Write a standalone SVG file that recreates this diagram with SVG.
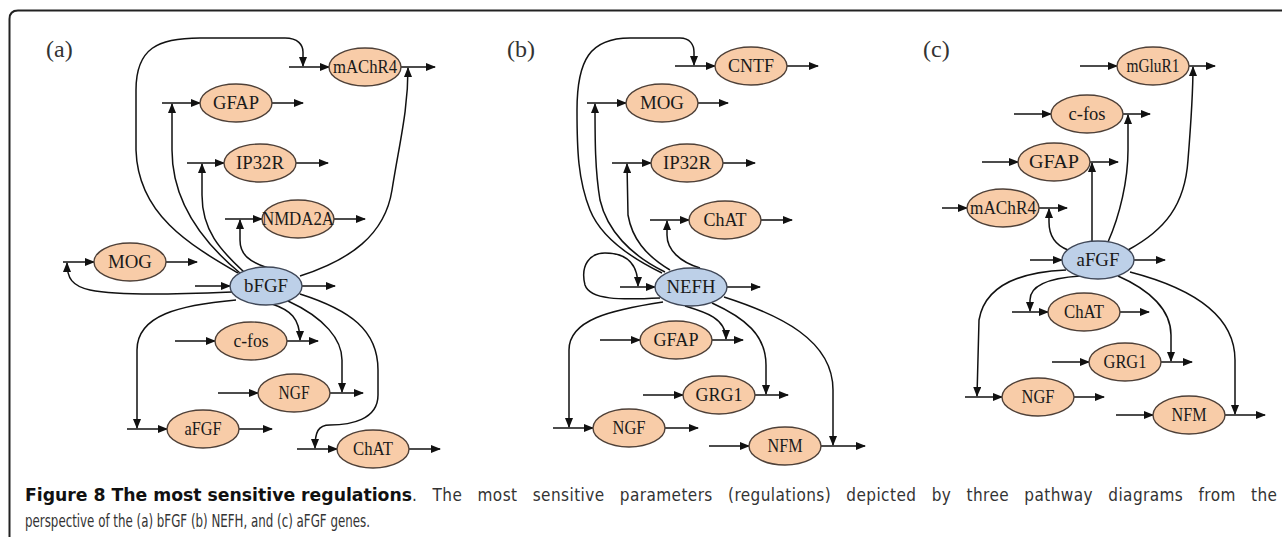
<svg xmlns="http://www.w3.org/2000/svg" width="1282" height="537" viewBox="0 0 1282 537">
<style>
.n ellipse{fill:#F8CCA8;stroke:#4e4038;stroke-width:1.4}
.n.c ellipse{fill:#BDD0E8;stroke:#404858}
.n text{font-family:"Liberation Serif","Times New Roman",serif;font-size:18px;fill:#1a1a1a;text-anchor:middle}
.e path{fill:none;stroke:#111;stroke-width:1.5;marker-end:url(#ah)}
.lab{font-family:"Liberation Serif","Times New Roman",serif;font-size:24px;fill:#333}
.cap{font-family:"Liberation Sans Narrow","DejaVu Sans Condensed","Open Sans",sans-serif;font-size:17px;fill:#333}
.capb{font-weight:bold;fill:#111}
</style>
<defs>
<marker id="ah" viewBox="0 0 10 8" refX="9" refY="4" markerWidth="10" markerHeight="8" markerUnits="userSpaceOnUse" orient="auto"><path d="M0,0L10,4L0,8z" fill="#111"/></marker>
</defs>
<rect width="1282" height="537" fill="#fff"/>
<path d="M1282,10.5H18Q9.5,10.5 9.5,19V537" fill="none" stroke="#222" stroke-width="2"/>
<text class="lab" x="46" y="57">(a)</text>
<text class="lab" x="507" y="57">(b)</text>
<text class="lab" x="923" y="57">(c)</text>
<g id="connectors" class="e">
<path d="M289,67H329"/><path d="M401,67H435"/>
<path d="M162,103H200"/><path d="M272,103H303"/>
<path d="M187,163H224"/><path d="M296,163H328"/>
<path d="M225,219H262"/><path d="M334,219H365"/>
<path d="M63,262H94"/><path d="M166,262H197"/>
<path d="M195,286H230"/><path d="M302,286H335"/>
<path d="M175,341H215"/><path d="M287,341H318"/>
<path d="M218,393H258"/><path d="M330,393H363"/>
<path d="M127,429H167"/><path d="M239,429H272"/>
<path d="M297,449H337"/><path d="M409,449H440"/>
<path d="M238,273C190,245 138,215 136,150L136,90C136,48 158,38 200,38L285,38C298,38 303,45 303,52L303,66"/>
<path d="M240,273C200,240 172,200 172,150L172,104"/>
<path d="M244,272C220,250 202,230 202,195L202,164"/>
<path d="M268,268C250,262 240,255 240,240L240,220"/>
<path d="M300,276C350,260 385,235 392,190C400,140 408,110 408,68"/>
<path d="M232,292C180,294 120,296 90,290C72,286 67,278 67,263"/>
<path d="M236,300C180,305 137,315 137,350L137,428"/>
<path d="M272,304C290,310 300,318 300,340"/>
<path d="M288,301C325,318 342,340 342,360L342,392"/>
<path d="M300,294C350,310 378,330 378,370L378,395C378,420 350,425 330,425C318,425 315,432 315,448"/>
<path d="M675,66H715"/><path d="M787,66H818"/>
<path d="M587,103H626"/><path d="M698,103H728"/>
<path d="M612,163H651"/><path d="M723,163H755"/>
<path d="M650,220H689"/><path d="M761,220H792"/>
<path d="M620,287H655"/><path d="M727,287H760"/>
<path d="M600,340H640"/><path d="M712,340H743"/>
<path d="M643,395H683"/><path d="M755,395H788"/>
<path d="M553,428H593"/><path d="M665,428H698"/>
<path d="M709,446H749"/><path d="M821,446H865"/>
<path d="M662,273C625,255 600,235 590,210C578,180 577,150 577,110C577,60 590,38 630,38L680,38C690,38 694,45 694,52L694,65"/>
<path d="M665,272C630,255 607,230 600,200C595,170 595,140 595,104"/>
<path d="M670,270C645,255 632,238 628,215L627,164"/>
<path d="M700,268C680,262 667,250 667,235L667,221"/>
<path d="M660,298C620,300 590,300 585,285C580,265 590,253 605,253C625,253 638,262 638,286"/>
<path d="M663,302C610,310 569,320 569,350L569,427"/>
<path d="M685,306C705,312 726,318 726,339"/>
<path d="M712,303C745,318 766,335 766,365L766,394"/>
<path d="M724,297C780,315 833,340 833,390L833,445"/>
<path d="M1080,66H1117"/><path d="M1189,66H1215"/>
<path d="M1014,114H1051"/><path d="M1123,114H1150"/>
<path d="M982,162H1018"/><path d="M1090,162H1118"/>
<path d="M942,208H967"/><path d="M1039,208H1067"/>
<path d="M1030,260H1062"/><path d="M1134,260H1165"/>
<path d="M1012,312H1048"/><path d="M1120,312H1149"/>
<path d="M1052,362H1089"/><path d="M1161,362H1192"/>
<path d="M965,397H1002"/><path d="M1074,397H1104"/>
<path d="M1116,415H1153"/><path d="M1225,415H1265"/>
<path d="M1068,250C1055,245 1049,235 1049,222L1049,209"/>
<path d="M1092,242L1092,163"/>
<path d="M1108,242C1120,215 1128,180 1128,150L1128,115"/>
<path d="M1128,250C1165,230 1185,205 1188,160C1192,110 1193,90 1193,67"/>
<path d="M1066,270C1020,272 985,285 979,320L977,396"/>
<path d="M1080,276C1050,278 1030,285 1030,300L1030,311"/>
<path d="M1118,276C1150,290 1171,310 1171,335L1171,361"/>
<path d="M1130,272C1180,285 1235,310 1235,360L1235,414"/>
</g>
<g id="a-mAChR4" class="n"><ellipse cx="365" cy="67" rx="36" ry="19"/><text x="365" y="73" textLength="64" lengthAdjust="spacingAndGlyphs">mAChR4</text></g>
<g id="a-GFAP" class="n"><ellipse cx="236" cy="103" rx="36" ry="19"/><text x="236" y="109" textLength="46" lengthAdjust="spacingAndGlyphs">GFAP</text></g>
<g id="a-IP32R" class="n"><ellipse cx="260" cy="163" rx="36" ry="19"/><text x="260" y="169" textLength="48" lengthAdjust="spacingAndGlyphs">IP32R</text></g>
<g id="a-NMDA2A" class="n"><ellipse cx="298" cy="219" rx="36" ry="19"/><text x="298" y="225" textLength="72" lengthAdjust="spacingAndGlyphs">NMDA2A</text></g>
<g id="a-MOG" class="n"><ellipse cx="130" cy="262" rx="36" ry="19"/><text x="130" y="268" textLength="44" lengthAdjust="spacingAndGlyphs">MOG</text></g>
<g id="a-bFGF" class="n c"><ellipse cx="266" cy="286" rx="36" ry="19"/><text x="266" y="292" textLength="44" lengthAdjust="spacingAndGlyphs">bFGF</text></g>
<g id="a-c-fos" class="n"><ellipse cx="251" cy="341" rx="36" ry="19"/><text x="251" y="347" textLength="35" lengthAdjust="spacingAndGlyphs">c-fos</text></g>
<g id="a-NGF" class="n"><ellipse cx="294" cy="393" rx="36" ry="19"/><text x="294" y="399" textLength="31" lengthAdjust="spacingAndGlyphs">NGF</text></g>
<g id="a-aFGF" class="n"><ellipse cx="203" cy="429" rx="36" ry="19"/><text x="203" y="435" textLength="37" lengthAdjust="spacingAndGlyphs">aFGF</text></g>
<g id="a-ChAT" class="n"><ellipse cx="373" cy="449" rx="36" ry="19"/><text x="373" y="455" textLength="40" lengthAdjust="spacingAndGlyphs">ChAT</text></g>
<g id="b-CNTF" class="n"><ellipse cx="751" cy="66" rx="36" ry="19"/><text x="751" y="72" textLength="46" lengthAdjust="spacingAndGlyphs">CNTF</text></g>
<g id="b-MOG" class="n"><ellipse cx="662" cy="103" rx="36" ry="19"/><text x="662" y="109" textLength="44" lengthAdjust="spacingAndGlyphs">MOG</text></g>
<g id="b-IP32R" class="n"><ellipse cx="687" cy="163" rx="36" ry="19"/><text x="687" y="169" textLength="48" lengthAdjust="spacingAndGlyphs">IP32R</text></g>
<g id="b-ChAT" class="n"><ellipse cx="725" cy="220" rx="36" ry="19"/><text x="725" y="226" textLength="43" lengthAdjust="spacingAndGlyphs">ChAT</text></g>
<g id="b-NEFH" class="n c"><ellipse cx="691" cy="287" rx="36" ry="19"/><text x="691" y="293" textLength="49" lengthAdjust="spacingAndGlyphs">NEFH</text></g>
<g id="b-GFAP" class="n"><ellipse cx="676" cy="340" rx="36" ry="19"/><text x="676" y="346" textLength="45" lengthAdjust="spacingAndGlyphs">GFAP</text></g>
<g id="b-GRG1" class="n"><ellipse cx="719" cy="395" rx="36" ry="19"/><text x="719" y="401" textLength="47" lengthAdjust="spacingAndGlyphs">GRG1</text></g>
<g id="b-NGF" class="n"><ellipse cx="629" cy="428" rx="36" ry="19"/><text x="629" y="434" textLength="33" lengthAdjust="spacingAndGlyphs">NGF</text></g>
<g id="b-NFM" class="n"><ellipse cx="785" cy="446" rx="36" ry="19"/><text x="785" y="452" textLength="35" lengthAdjust="spacingAndGlyphs">NFM</text></g>
<g id="c-mGluR1" class="n"><ellipse cx="1153" cy="66" rx="36" ry="19"/><text x="1153" y="72" textLength="53" lengthAdjust="spacingAndGlyphs">mGluR1</text></g>
<g id="c-c-fos" class="n"><ellipse cx="1087" cy="114" rx="36" ry="19"/><text x="1087" y="120" textLength="37" lengthAdjust="spacingAndGlyphs">c-fos</text></g>
<g id="c-GFAP" class="n"><ellipse cx="1054" cy="162" rx="36" ry="19"/><text x="1054" y="168" textLength="50" lengthAdjust="spacingAndGlyphs">GFAP</text></g>
<g id="c-mAChR4" class="n"><ellipse cx="1003" cy="208" rx="36" ry="19"/><text x="1003" y="214" textLength="66" lengthAdjust="spacingAndGlyphs">mAChR4</text></g>
<g id="c-aFGF" class="n c"><ellipse cx="1098" cy="260" rx="36" ry="19"/><text x="1098" y="266" textLength="43" lengthAdjust="spacingAndGlyphs">aFGF</text></g>
<g id="c-ChAT" class="n"><ellipse cx="1084" cy="312" rx="36" ry="19"/><text x="1084" y="318" textLength="40" lengthAdjust="spacingAndGlyphs">ChAT</text></g>
<g id="c-GRG1" class="n"><ellipse cx="1125" cy="362" rx="36" ry="19"/><text x="1125" y="368" textLength="43" lengthAdjust="spacingAndGlyphs">GRG1</text></g>
<g id="c-NGF" class="n"><ellipse cx="1038" cy="397" rx="36" ry="19"/><text x="1038" y="403" textLength="33" lengthAdjust="spacingAndGlyphs">NGF</text></g>
<g id="c-NFM" class="n"><ellipse cx="1189" cy="415" rx="36" ry="19"/><text x="1189" y="421" textLength="35" lengthAdjust="spacingAndGlyphs">NFM</text></g>
<text class="cap capb" x="25" y="501" textLength="387" lengthAdjust="spacingAndGlyphs">Figure 8 The most sensitive regulations</text>
<text class="cap" x="412" y="501" word-spacing="10" textLength="865" lengthAdjust="spacing">. The most sensitive parameters (regulations) depicted by three pathway diagrams from the</text>
<text class="cap" x="25" y="527" textLength="345" lengthAdjust="spacingAndGlyphs">perspective of the (a) bFGF (b) NEFH, and (c) aFGF genes.</text>
</svg>
